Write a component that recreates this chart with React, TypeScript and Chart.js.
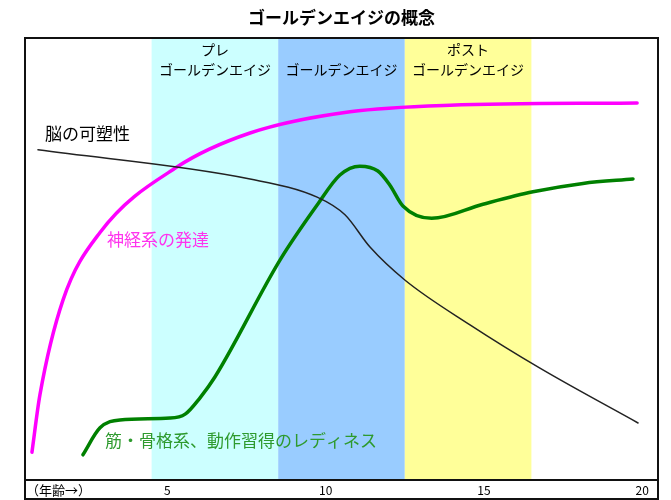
import { useEffect, useRef } from "react";
import { Chart, registerables } from "chart.js";

Chart.register(...registerables);

// ---- data ----
const titleText = "ゴールデンエイジの概念";
const axisCaption = "（年齢→）";
const tickAges = [5, 10, 15, 20];

const brainName = "脳の可塑性";
const brainAges = [0.91, 7.61, 9.73, 10.61, 11.4, 12.51, 14.56, 16.77, 19.87];
const brainValues = [74.7, 68.1, 64.0, 60.0, 52.7, 45.2, 35.1, 25.3, 12.9];

const nerveName = "神経系の発達";
const nerveAges = [0.72, 0.97, 1.7, 2.87, 5.3, 7.61, 10.77, 13.93, 19.84];
const nerveValues = [6.3, 19.2, 40.7, 56.0, 70.8, 78.5, 83.3, 84.8, 85.3];

const muscleName = "筋・骨格系、動作習得のレディネス";
const muscleAges = [2.33, 2.87, 3.5, 5.08, 5.56, 6.03, 6.5, 8.56, 9.73, 10.45, 11.08, 11.65, 12.03, 12.44, 13.35, 14.97, 16.55, 18.13, 19.71];
const muscleValues = [5.7, 11.8, 13.6, 14.0, 14.9, 18.6, 23.3, 49.8, 62.2, 69.0, 71.0, 69.9, 66.7, 62.0, 59.2, 62.4, 65.2, 67.1, 68.1];

// label anchors (age, value)
const seriesLabelAges = [1.13, 3.09, 3.03];
const seriesLabelValues = [78.3, 54.5, 9.0];

// golden-age bands (first and last age covered)
const bandFirstAges = [5, 9, 13];
const bandLastAges = [8, 12, 16];
const bandLabelLines = [["プレ", "ゴールデンエイジ"], ["ゴールデンエイジ"], ["ポスト", "ゴールデンエイジ"]];
const bandLabelValues = [97.3, 92.8];

// ---- styles ----
const FONT = '"Noto Sans CJK JP", "Noto Sans", sans-serif';
const bandColors = ["#CCFFFF", "#99CCFF", "#FFFF99"];
const seriesColors = ["#222222", "#FF00FF", "#008000"];
const seriesLabelColors = ["#000000", "#FF33EE", "#2E9A2E"];
const seriesWidths = [1.5, 3.5, 3.5];

export default function App() {
  const canvasRef = useRef<HTMLCanvasElement | null>(null);

  useEffect(() => {
    const canvas = canvasRef.current;
    if (!canvas) return;

    const decorations = {
      id: "decorations",
      beforeDatasetsDraw(chart: any) {
        const { ctx, chartArea } = chart;
        const xs = chart.scales.x;
        const ys = chart.scales.y;
        ctx.save();
        bandFirstAges.forEach((a, i) => {
          const x1 = xs.getPixelForValue(a - 0.5);
          const x2 = xs.getPixelForValue(bandLastAges[i] + 0.5);
          ctx.fillStyle = bandColors[i];
          ctx.fillRect(x1, chartArea.top, x2 - x1, chartArea.bottom - chartArea.top);
          const lines = bandLabelLines[i];
          ctx.fillStyle = "#000";
          ctx.font = `14px ${FONT}`;
          ctx.textAlign = "center";
          ctx.textBaseline = "middle";
          const cx = (x1 + x2) / 2;
          lines.forEach((ln, j) => {
            const vIdx = bandLabelValues.length - lines.length + j;
            ctx.fillText(ln, cx, ys.getPixelForValue(bandLabelValues[vIdx]));
          });
        });
        ctx.restore();
      },
      afterDraw(chart: any) {
        const { ctx, chartArea } = chart;
        const xs = chart.scales.x;
        const ys = chart.scales.y;
        ctx.save();
        // series labels
        const names = [brainName, nerveName, muscleName];
        names.forEach((n, i) => {
          ctx.font = `17px ${FONT}`;
          ctx.fillStyle = seriesLabelColors[i];
          ctx.textAlign = "left";
          ctx.textBaseline = "middle";
          ctx.fillText(n, xs.getPixelForValue(seriesLabelAges[i]), ys.getPixelForValue(seriesLabelValues[i]));
        });
        // frame
        const bottom = chart.height - 1;
        ctx.strokeStyle = "#111";
        ctx.lineWidth = 2;
        ctx.strokeRect(chartArea.left, chartArea.top, chartArea.right - chartArea.left, bottom - chartArea.top);
        ctx.beginPath();
        ctx.moveTo(chartArea.left, chartArea.bottom);
        ctx.lineTo(chartArea.right, chartArea.bottom);
        ctx.stroke();
        // axis caption
        ctx.font = `13px ${FONT}`;
        ctx.fillStyle = "#000";
        ctx.textAlign = "left";
        ctx.textBaseline = "middle";
        ctx.fillText(axisCaption, chartArea.left + 1, (chartArea.bottom + bottom) / 2 + 1);
        // title
        ctx.font = `bold 17px ${FONT}`;
        ctx.textAlign = "center";
        ctx.fillText(titleText, (chartArea.left + chartArea.right) / 2, 18);
        ctx.restore();
      },
    };

    const mk = (label: string, ages: number[], values: number[], i: number) => ({
      label,
      data: ages.map((a, k) => ({ x: a, y: values[k] })),
      showLine: true,
      borderColor: seriesColors[i],
      backgroundColor: seriesColors[i],
      borderWidth: seriesWidths[i],
      pointRadius: 0,
      cubicInterpolationMode: "monotone" as const,
      borderCapStyle: "round" as const,
      borderJoinStyle: "round" as const,
    });

    const chart = new Chart(canvas, {
      type: "scatter",
      data: {
        datasets: [
          mk(brainName, brainAges, brainValues, 0),
          mk(nerveName, nerveAges, nerveValues, 1),
          mk(muscleName, muscleAges, muscleValues, 2),
        ],
      },
      options: {
        animation: false,
        responsive: false,
        maintainAspectRatio: false,
        devicePixelRatio: 1,
        layout: { padding: { left: 25, right: 13, top: 38, bottom: 1 } },
        plugins: { legend: { display: false }, tooltip: { enabled: false }, title: { display: false } },
        scales: {
          x: {
            type: "linear",
            min: 0.5,
            max: 20.5,
            grid: { display: false, drawTicks: false, tickLength: 0 },
            border: { display: false },
            afterBuildTicks: (axis: any) => {
              axis.ticks = tickAges.map((v) => ({ value: v }));
            },
            afterFit: (axis: any) => {
              axis.height = 19;
            },
            ticks: {
              autoSkip: false,
              maxRotation: 0,
              padding: 3,
              color: "#000",
              font: { family: FONT, size: 12 },
              callback: (v: any) => String(v),
            },
          },
          y: { display: false, min: 0, max: 100 },
        },
      },
      plugins: [decorations],
    });
    return () => chart.destroy();
  }, []);

  return (
    <div style={{ position: "fixed", left: 0, top: 0, width: 671, height: 500, background: "#fff" }}>
      <canvas ref={canvasRef} width={671} height={500} style={{ display: "block", width: 671, height: 500 }} />
    </div>
  );
}
